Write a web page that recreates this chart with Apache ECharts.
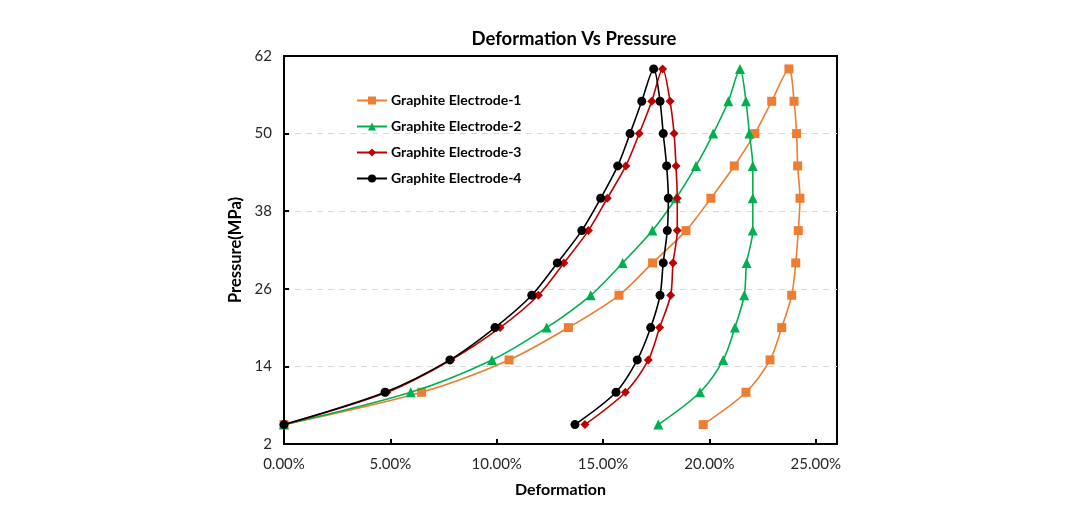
<!DOCTYPE html>
<html>
<head>
<meta charset="utf-8">
<script src="https://cdn.jsdelivr.net/npm/echarts@6/dist/echarts.min.js"></script>
<style>
html,body{margin:0;padding:0;background:#fff;}
#chart{width:1080px;height:518px;}
</style>
</head>
<body>
<div id="chart"></div>
<script>
// Pressure levels (MPa): loading 5..60 then unloading 55..5
const pressure = [5,10,15,20,25,30,35,40,45,50,55,60,55,50,45,40,35,30,25,20,15,10,5];
// Deformation (%) for each electrode, same order as pressure
const electrode1 = [0,6.47,10.58,13.37,15.75,17.33,18.90,20.07,21.17,22.14,22.93,23.74,
                    23.98,24.10,24.15,24.26,24.18,24.06,23.87,23.40,22.85,21.72,19.71];
const electrode2 = [0,5.96,9.78,12.35,14.42,15.92,17.32,18.43,19.37,20.18,20.89,21.44,
                    21.72,21.88,22.04,22.04,22.04,21.75,21.64,21.20,20.65,19.56,17.60];
const electrode3 = [0,4.84,7.85,10.16,11.96,13.16,14.31,15.20,16.07,16.70,17.29,17.80,
                    18.15,18.34,18.43,18.49,18.49,18.29,18.18,17.66,17.13,16.05,14.15];
const electrode4 = [0,4.75,7.80,9.92,11.65,12.85,14.00,14.89,15.69,16.27,16.82,17.38,
                    17.68,17.83,17.99,18.07,18.02,17.83,17.68,17.24,16.61,15.61,13.68];
const seriesNames = ['Graphite Electrode-1','Graphite Electrode-2','Graphite Electrode-3','Graphite Electrode-4'];
const xTicks = [0,5,10,15,20,25];
const yTicks = [2,14,26,38,50,62];

const FONT = 'Lato, "Open Sans", sans-serif';
const chart = echarts.init(document.getElementById('chart'));

function pairs(xs){ return xs.map((x,i)=>[x, pressure[i]]); }

const styles = [
  {color:'#ED7D31', symbol:'rect', size:9},
  {color:'#00B050', symbol:'triangle', size:10},
  {color:'#C00000', symbol:'diamond', size:9},
  {color:'#000000', symbol:'circle', size:9}
];
const datasets = [electrode1, electrode2, electrode3, electrode4];

const series = datasets.map((d,i)=>({
  name: seriesNames[i],
  type: 'line',
  data: pairs(d),
  smooth: 0.3,
  symbol: styles[i].symbol,
  symbolSize: styles[i].size,
  showAllSymbol: true,
  lineStyle: {color: styles[i].color, width: 1.6},
  itemStyle: {color: styles[i].color},
  z: 2 + i
}));

chart.setOption({
  backgroundColor: '#fff',
  animation: false,
  title: {
    text: 'Deformation Vs Pressure',
    left: 569, top: 25, textAlign: 'center',
    textStyle: {fontFamily: FONT, fontSize: 18.5, fontWeight: 'bold', color: '#000'}
  },
  legend: {
    orient: 'vertical',
    left: 351, top: 88,
    itemWidth: 30, itemHeight: 10, itemGap: 11,
    data: seriesNames,
    textStyle: {fontFamily: FONT, fontSize: 14, fontWeight: 'bold', color: '#000', lineHeight: 15, padding: [0,0,0,-1]}
  },
  grid: {
    left: 284, right: 243, top: 56, bottom: 74,
    show: true, borderColor: '#000', borderWidth: 2, backgroundColor: 'transparent'
  },
  xAxis: {
    type: 'value', min: 0, max: 26, interval: 5,
    name: 'Deformation', nameLocation: 'middle', nameGap: 38,
    nameTextStyle: {fontFamily: FONT, fontSize: 16, fontWeight: 'bold', color: '#000'},
    axisLine: {show: true, lineStyle: {color: '#000', width: 2}},
    axisTick: {show: true, inside: true, length: 5, lineStyle: {color: '#000', width: 2}, customValues: xTicks},
    axisLabel: {customValues: xTicks, formatter: v => v.toFixed(2) + '%', fontFamily: FONT, fontSize: 15, color: '#262626', margin: 13},
    splitLine: {show: false}
  },
  yAxis: {
    type: 'value', min: 2, max: 62,
    name: 'Pressure(MPa)', nameLocation: 'middle', nameGap: 28, nameRotate: 90,
    nameTextStyle: {fontFamily: FONT, fontSize: 16.5, fontWeight: 'bold', color: '#000'},
    axisLine: {show: true, lineStyle: {color: '#000', width: 2}},
    axisTick: {show: true, inside: true, length: 5, lineStyle: {color: '#000', width: 2}, customValues: yTicks},
    axisLabel: {customValues: yTicks, fontFamily: FONT, fontSize: 15, color: '#262626', margin: 12},
    splitLine: {show: true, showMinLine: false, showMaxLine: false, lineStyle: {color: '#D9D9D9', type: [6, 5], width: 1}}
  },
  series: series
});
</script>
</body>
</html>
